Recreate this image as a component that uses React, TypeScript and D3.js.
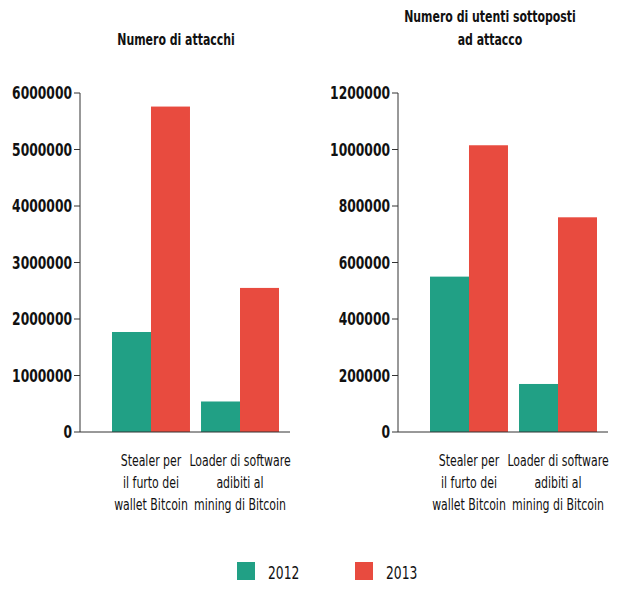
import React from 'react';
import * as d3 from 'd3';

const categories = ['Stealer per|il furto dei|wallet Bitcoin', 'Loader di software|adibiti al|mining di Bitcoin'];
const years = ['2012', '2013'];
const attacks2012 = [1770000, 540000];
const attacks2013 = [5760000, 2550000];
const users2012 = [550000, 170000];
const users2013 = [1015000, 760000];
const attackTicks = [0, 1000000, 2000000, 3000000, 4000000, 5000000, 6000000];
const userTicks = [0, 200000, 400000, 600000, 800000, 1000000, 1200000];
const colors = ['#21a085', '#e84b3f'];
const font = '"DejaVu Sans Condensed", "DejaVu Sans", sans-serif';
const squeeze = 0.76;

// narrow text: squeeze horizontally around its anchor point
const NText: React.FC<{ x: number; y: number; anchor?: string; size: number; bold?: boolean; children: React.ReactNode }> =
  ({ x, y, anchor = 'start', size, bold, children }) => (
    <g transform={`translate(${x},${y}) scale(${squeeze},1)`}>
      <text x={0} y={0} textAnchor={anchor} fontFamily={font} fontWeight={bold ? 'bold' : 'normal'}
        fontSize={size} fill="#111">{children}</text>
    </g>
  );

interface PanelProps {
  x0: number;
  title: string[];
  titleX: number;
  s2012: number[];
  s2013: number[];
  ticks: number[];
  max: number;
}

const Panel: React.FC<PanelProps> = ({ x0, title, titleX, s2012, s2013, ticks, max }) => {
  const top = 93;
  const bottom = 432;
  const y = d3.scaleLinear().domain([0, max]).range([bottom, top]);
  const x = d3.scaleBand().domain(categories).range([x0 + 32, x0 + 199]).paddingInner(0.124).paddingOuter(0);
  const sub = d3.scaleBand().domain(years).range([0, x.bandwidth()]);
  return (
    <g>
      {title.map((t, i) => (
        <NText key={i} x={titleX} y={title.length === 1 ? 45 : 22 + i * 23} anchor="middle" size={16} bold>{t}</NText>
      ))}
      {categories.map((c, i) => (
        <g key={c}>
          {[s2012[i], s2013[i]].map((v, j) => (
            <rect key={j} x={(x(c) ?? 0) + (sub(years[j]) ?? 0)} y={y(v)} width={sub.bandwidth()}
              height={bottom - y(v)} fill={colors[j]} />
          ))}
          {c.split('|').map((line, k) => (
            <NText key={k} x={(x(c) ?? 0) + x.bandwidth() / 2} y={466 + k * 22} anchor="middle" size={16}>{line}</NText>
          ))}
        </g>
      ))}
      <line x1={x0} x2={x0 + 210} y1={bottom} y2={bottom} stroke="#333" strokeWidth={1} />
      <line x1={x0} x2={x0} y1={top} y2={bottom} stroke="#333" strokeWidth={1} />
      {ticks.map((t) => (
        <g key={t}>
          <line x1={x0 - 6} x2={x0} y1={y(t)} y2={y(t)} stroke="#333" />
          <NText x={x0 - 8} y={y(t) + 6} anchor="end" size={18} bold>{t}</NText>
        </g>
      ))}
    </g>
  );
};

export default function App() {
  return (
    <svg width={628} height={589} style={{ display: 'block', margin: -8 }}>
      <rect width={628} height={589} fill="#fff" />
      <Panel x0={80} title={['Numero di attacchi']} titleX={176} s2012={attacks2012} s2013={attacks2013}
        ticks={attackTicks} max={6000000} />
      <Panel x0={398} title={['Numero di utenti sottoposti', 'ad attacco']} titleX={490} s2012={users2012}
        s2013={users2013} ticks={userTicks} max={1200000} />
      {years.map((yr, i) => (
        <g key={yr}>
          <rect x={237 + i * 118} y={562} width={18} height={18} fill={colors[i]} />
          <NText x={268 + i * 118} y={579} size={18}>{yr}</NText>
        </g>
      ))}
    </svg>
  );
}
